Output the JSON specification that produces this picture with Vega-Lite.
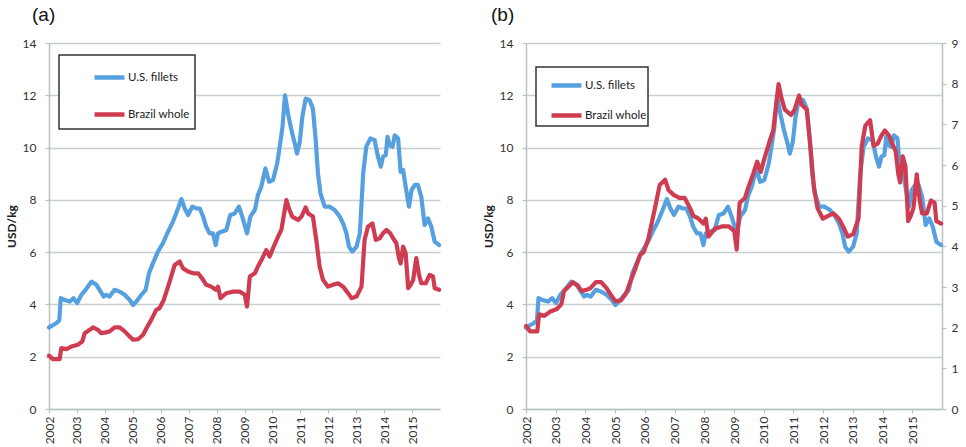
{
  "$schema": "https://vega.github.io/schema/vega-lite/v6.json",
  "padding": {"left": 5, "top": 6, "right": 4, "bottom": 0},
  "background": "white",
  "datasets": {
    "prices": [
      {"t": 2002.00, "s": "U.S. fillets", "v": 3.12},
      {"t": 2002.26, "s": "U.S. fillets", "v": 3.28},
      {"t": 2002.37, "s": "U.S. fillets", "v": 3.40},
      {"t": 2002.42, "s": "U.S. fillets", "v": 4.24},
      {"t": 2002.56, "s": "U.S. fillets", "v": 4.17},
      {"t": 2002.74, "s": "U.S. fillets", "v": 4.11},
      {"t": 2002.88, "s": "U.S. fillets", "v": 4.24},
      {"t": 2003.01, "s": "U.S. fillets", "v": 4.05},
      {"t": 2003.16, "s": "U.S. fillets", "v": 4.37},
      {"t": 2003.31, "s": "U.S. fillets", "v": 4.56},
      {"t": 2003.52, "s": "U.S. fillets", "v": 4.87},
      {"t": 2003.70, "s": "U.S. fillets", "v": 4.75},
      {"t": 2003.81, "s": "U.S. fillets", "v": 4.56},
      {"t": 2003.96, "s": "U.S. fillets", "v": 4.30},
      {"t": 2004.05, "s": "U.S. fillets", "v": 4.37},
      {"t": 2004.17, "s": "U.S. fillets", "v": 4.30},
      {"t": 2004.35, "s": "U.S. fillets", "v": 4.56},
      {"t": 2004.53, "s": "U.S. fillets", "v": 4.49},
      {"t": 2004.71, "s": "U.S. fillets", "v": 4.37},
      {"t": 2004.89, "s": "U.S. fillets", "v": 4.17},
      {"t": 2005.01, "s": "U.S. fillets", "v": 3.98},
      {"t": 2005.13, "s": "U.S. fillets", "v": 4.11},
      {"t": 2005.31, "s": "U.S. fillets", "v": 4.37},
      {"t": 2005.46, "s": "U.S. fillets", "v": 4.56},
      {"t": 2005.58, "s": "U.S. fillets", "v": 5.19},
      {"t": 2005.72, "s": "U.S. fillets", "v": 5.57},
      {"t": 2005.90, "s": "U.S. fillets", "v": 6.02},
      {"t": 2006.08, "s": "U.S. fillets", "v": 6.34},
      {"t": 2006.26, "s": "U.S. fillets", "v": 6.78},
      {"t": 2006.44, "s": "U.S. fillets", "v": 7.17},
      {"t": 2006.62, "s": "U.S. fillets", "v": 7.67},
      {"t": 2006.74, "s": "U.S. fillets", "v": 8.03},
      {"t": 2006.86, "s": "U.S. fillets", "v": 7.67},
      {"t": 2006.98, "s": "U.S. fillets", "v": 7.42},
      {"t": 2007.13, "s": "U.S. fillets", "v": 7.74},
      {"t": 2007.28, "s": "U.S. fillets", "v": 7.67},
      {"t": 2007.40, "s": "U.S. fillets", "v": 7.67},
      {"t": 2007.52, "s": "U.S. fillets", "v": 7.36},
      {"t": 2007.63, "s": "U.S. fillets", "v": 6.97},
      {"t": 2007.75, "s": "U.S. fillets", "v": 6.72},
      {"t": 2007.87, "s": "U.S. fillets", "v": 6.72},
      {"t": 2007.97, "s": "U.S. fillets", "v": 6.27},
      {"t": 2008.05, "s": "U.S. fillets", "v": 6.72},
      {"t": 2008.17, "s": "U.S. fillets", "v": 6.78},
      {"t": 2008.35, "s": "U.S. fillets", "v": 6.85},
      {"t": 2008.49, "s": "U.S. fillets", "v": 7.42},
      {"t": 2008.65, "s": "U.S. fillets", "v": 7.48},
      {"t": 2008.80, "s": "U.S. fillets", "v": 7.74},
      {"t": 2008.92, "s": "U.S. fillets", "v": 7.36},
      {"t": 2009.09, "s": "U.S. fillets", "v": 6.72},
      {"t": 2009.21, "s": "U.S. fillets", "v": 7.36},
      {"t": 2009.37, "s": "U.S. fillets", "v": 7.61},
      {"t": 2009.48, "s": "U.S. fillets", "v": 8.18},
      {"t": 2009.60, "s": "U.S. fillets", "v": 8.50},
      {"t": 2009.75, "s": "U.S. fillets", "v": 9.20},
      {"t": 2009.88, "s": "U.S. fillets", "v": 8.69},
      {"t": 2010.02, "s": "U.S. fillets", "v": 8.76},
      {"t": 2010.17, "s": "U.S. fillets", "v": 9.39},
      {"t": 2010.26, "s": "U.S. fillets", "v": 10.03},
      {"t": 2010.36, "s": "U.S. fillets", "v": 10.79},
      {"t": 2010.45, "s": "U.S. fillets", "v": 12.00},
      {"t": 2010.56, "s": "U.S. fillets", "v": 11.30},
      {"t": 2010.68, "s": "U.S. fillets", "v": 10.67},
      {"t": 2010.80, "s": "U.S. fillets", "v": 10.16},
      {"t": 2010.88, "s": "U.S. fillets", "v": 9.77},
      {"t": 2010.98, "s": "U.S. fillets", "v": 10.22},
      {"t": 2011.07, "s": "U.S. fillets", "v": 11.17},
      {"t": 2011.19, "s": "U.S. fillets", "v": 11.87},
      {"t": 2011.33, "s": "U.S. fillets", "v": 11.81},
      {"t": 2011.45, "s": "U.S. fillets", "v": 11.49},
      {"t": 2011.55, "s": "U.S. fillets", "v": 10.28},
      {"t": 2011.63, "s": "U.S. fillets", "v": 9.01},
      {"t": 2011.72, "s": "U.S. fillets", "v": 8.25},
      {"t": 2011.87, "s": "U.S. fillets", "v": 7.74},
      {"t": 2012.05, "s": "U.S. fillets", "v": 7.74},
      {"t": 2012.23, "s": "U.S. fillets", "v": 7.61},
      {"t": 2012.41, "s": "U.S. fillets", "v": 7.36},
      {"t": 2012.53, "s": "U.S. fillets", "v": 7.10},
      {"t": 2012.65, "s": "U.S. fillets", "v": 6.72},
      {"t": 2012.74, "s": "U.S. fillets", "v": 6.21},
      {"t": 2012.86, "s": "U.S. fillets", "v": 6.02},
      {"t": 2013.01, "s": "U.S. fillets", "v": 6.21},
      {"t": 2013.13, "s": "U.S. fillets", "v": 6.72},
      {"t": 2013.25, "s": "U.S. fillets", "v": 9.01},
      {"t": 2013.36, "s": "U.S. fillets", "v": 10.03},
      {"t": 2013.51, "s": "U.S. fillets", "v": 10.35},
      {"t": 2013.66, "s": "U.S. fillets", "v": 10.28},
      {"t": 2013.78, "s": "U.S. fillets", "v": 9.65},
      {"t": 2013.88, "s": "U.S. fillets", "v": 9.27},
      {"t": 2013.96, "s": "U.S. fillets", "v": 9.65},
      {"t": 2014.06, "s": "U.S. fillets", "v": 9.71},
      {"t": 2014.12, "s": "U.S. fillets", "v": 10.41},
      {"t": 2014.20, "s": "U.S. fillets", "v": 10.09},
      {"t": 2014.30, "s": "U.S. fillets", "v": 10.03},
      {"t": 2014.38, "s": "U.S. fillets", "v": 10.47},
      {"t": 2014.50, "s": "U.S. fillets", "v": 10.35},
      {"t": 2014.59, "s": "U.S. fillets", "v": 9.07},
      {"t": 2014.68, "s": "U.S. fillets", "v": 9.14},
      {"t": 2014.77, "s": "U.S. fillets", "v": 8.50},
      {"t": 2014.89, "s": "U.S. fillets", "v": 7.74},
      {"t": 2014.98, "s": "U.S. fillets", "v": 8.37},
      {"t": 2015.10, "s": "U.S. fillets", "v": 8.57},
      {"t": 2015.21, "s": "U.S. fillets", "v": 8.57},
      {"t": 2015.33, "s": "U.S. fillets", "v": 8.12},
      {"t": 2015.45, "s": "U.S. fillets", "v": 7.04},
      {"t": 2015.57, "s": "U.S. fillets", "v": 7.29},
      {"t": 2015.69, "s": "U.S. fillets", "v": 6.97},
      {"t": 2015.81, "s": "U.S. fillets", "v": 6.40},
      {"t": 2015.97, "s": "U.S. fillets", "v": 6.27},
      {"t": 2002.00, "s": "Brazil whole", "v": 2.04},
      {"t": 2002.14, "s": "Brazil whole", "v": 1.91},
      {"t": 2002.38, "s": "Brazil whole", "v": 1.91},
      {"t": 2002.44, "s": "Brazil whole", "v": 2.33},
      {"t": 2002.62, "s": "Brazil whole", "v": 2.29},
      {"t": 2002.80, "s": "Brazil whole", "v": 2.39},
      {"t": 2003.04, "s": "Brazil whole", "v": 2.46},
      {"t": 2003.19, "s": "Brazil whole", "v": 2.58},
      {"t": 2003.28, "s": "Brazil whole", "v": 2.90},
      {"t": 2003.46, "s": "Brazil whole", "v": 3.03},
      {"t": 2003.58, "s": "Brazil whole", "v": 3.12},
      {"t": 2003.75, "s": "Brazil whole", "v": 3.03},
      {"t": 2003.87, "s": "Brazil whole", "v": 2.90},
      {"t": 2004.03, "s": "Brazil whole", "v": 2.93},
      {"t": 2004.17, "s": "Brazil whole", "v": 2.97},
      {"t": 2004.35, "s": "Brazil whole", "v": 3.12},
      {"t": 2004.53, "s": "Brazil whole", "v": 3.12},
      {"t": 2004.71, "s": "Brazil whole", "v": 2.97},
      {"t": 2004.89, "s": "Brazil whole", "v": 2.77},
      {"t": 2005.01, "s": "Brazil whole", "v": 2.65},
      {"t": 2005.19, "s": "Brazil whole", "v": 2.67},
      {"t": 2005.37, "s": "Brazil whole", "v": 2.84},
      {"t": 2005.49, "s": "Brazil whole", "v": 3.09},
      {"t": 2005.66, "s": "Brazil whole", "v": 3.41},
      {"t": 2005.84, "s": "Brazil whole", "v": 3.79},
      {"t": 2005.96, "s": "Brazil whole", "v": 3.86},
      {"t": 2006.11, "s": "Brazil whole", "v": 4.17},
      {"t": 2006.32, "s": "Brazil whole", "v": 4.87},
      {"t": 2006.50, "s": "Brazil whole", "v": 5.51},
      {"t": 2006.68, "s": "Brazil whole", "v": 5.64},
      {"t": 2006.80, "s": "Brazil whole", "v": 5.38},
      {"t": 2006.98, "s": "Brazil whole", "v": 5.26},
      {"t": 2007.16, "s": "Brazil whole", "v": 5.19},
      {"t": 2007.34, "s": "Brazil whole", "v": 5.19},
      {"t": 2007.52, "s": "Brazil whole", "v": 4.94},
      {"t": 2007.63, "s": "Brazil whole", "v": 4.75},
      {"t": 2007.81, "s": "Brazil whole", "v": 4.68},
      {"t": 2007.97, "s": "Brazil whole", "v": 4.56},
      {"t": 2008.05, "s": "Brazil whole", "v": 4.68},
      {"t": 2008.14, "s": "Brazil whole", "v": 4.24},
      {"t": 2008.35, "s": "Brazil whole", "v": 4.43},
      {"t": 2008.59, "s": "Brazil whole", "v": 4.49},
      {"t": 2008.83, "s": "Brazil whole", "v": 4.49},
      {"t": 2009.01, "s": "Brazil whole", "v": 4.37},
      {"t": 2009.09, "s": "Brazil whole", "v": 3.92},
      {"t": 2009.19, "s": "Brazil whole", "v": 5.07},
      {"t": 2009.37, "s": "Brazil whole", "v": 5.19},
      {"t": 2009.48, "s": "Brazil whole", "v": 5.45},
      {"t": 2009.64, "s": "Brazil whole", "v": 5.77},
      {"t": 2009.78, "s": "Brazil whole", "v": 6.08},
      {"t": 2009.90, "s": "Brazil whole", "v": 5.83},
      {"t": 2010.02, "s": "Brazil whole", "v": 6.15},
      {"t": 2010.20, "s": "Brazil whole", "v": 6.59},
      {"t": 2010.32, "s": "Brazil whole", "v": 6.85},
      {"t": 2010.40, "s": "Brazil whole", "v": 7.36},
      {"t": 2010.50, "s": "Brazil whole", "v": 7.99},
      {"t": 2010.59, "s": "Brazil whole", "v": 7.67},
      {"t": 2010.71, "s": "Brazil whole", "v": 7.36},
      {"t": 2010.92, "s": "Brazil whole", "v": 7.23},
      {"t": 2011.04, "s": "Brazil whole", "v": 7.36},
      {"t": 2011.19, "s": "Brazil whole", "v": 7.71},
      {"t": 2011.28, "s": "Brazil whole", "v": 7.48},
      {"t": 2011.45, "s": "Brazil whole", "v": 7.36},
      {"t": 2011.57, "s": "Brazil whole", "v": 6.47},
      {"t": 2011.69, "s": "Brazil whole", "v": 5.45},
      {"t": 2011.81, "s": "Brazil whole", "v": 4.94},
      {"t": 2011.99, "s": "Brazil whole", "v": 4.68},
      {"t": 2012.17, "s": "Brazil whole", "v": 4.75},
      {"t": 2012.35, "s": "Brazil whole", "v": 4.81},
      {"t": 2012.53, "s": "Brazil whole", "v": 4.68},
      {"t": 2012.71, "s": "Brazil whole", "v": 4.43},
      {"t": 2012.83, "s": "Brazil whole", "v": 4.24},
      {"t": 2013.01, "s": "Brazil whole", "v": 4.30},
      {"t": 2013.19, "s": "Brazil whole", "v": 4.68},
      {"t": 2013.30, "s": "Brazil whole", "v": 6.47},
      {"t": 2013.42, "s": "Brazil whole", "v": 6.97},
      {"t": 2013.58, "s": "Brazil whole", "v": 7.10},
      {"t": 2013.70, "s": "Brazil whole", "v": 6.47},
      {"t": 2013.84, "s": "Brazil whole", "v": 6.53},
      {"t": 2013.96, "s": "Brazil whole", "v": 6.72},
      {"t": 2014.08, "s": "Brazil whole", "v": 6.85},
      {"t": 2014.22, "s": "Brazil whole", "v": 6.72},
      {"t": 2014.32, "s": "Brazil whole", "v": 6.53},
      {"t": 2014.44, "s": "Brazil whole", "v": 6.34},
      {"t": 2014.53, "s": "Brazil whole", "v": 5.77},
      {"t": 2014.59, "s": "Brazil whole", "v": 5.57},
      {"t": 2014.68, "s": "Brazil whole", "v": 6.21},
      {"t": 2014.77, "s": "Brazil whole", "v": 5.96},
      {"t": 2014.86, "s": "Brazil whole", "v": 4.62},
      {"t": 2014.95, "s": "Brazil whole", "v": 4.75},
      {"t": 2015.04, "s": "Brazil whole", "v": 4.94},
      {"t": 2015.15, "s": "Brazil whole", "v": 5.77},
      {"t": 2015.25, "s": "Brazil whole", "v": 5.13},
      {"t": 2015.33, "s": "Brazil whole", "v": 4.81},
      {"t": 2015.49, "s": "Brazil whole", "v": 4.81},
      {"t": 2015.63, "s": "Brazil whole", "v": 5.13},
      {"t": 2015.75, "s": "Brazil whole", "v": 5.07},
      {"t": 2015.81, "s": "Brazil whole", "v": 4.62},
      {"t": 2015.97, "s": "Brazil whole", "v": 4.56}
    ]
  },
  "hconcat": [
    {
      "width": 391,
      "height": 366,
      "title": {"text": "(a)", "anchor": "start", "frame": "group", "dx": -17, "offset": 12},
      "data": {"name": "prices"},
      "mark": {"type": "line", "strokeWidth": 4.2, "strokeJoin": "round", "strokeCap": "round"},
      "encoding": {
        "x": {"field": "t", "type": "quantitative", "scale": {"domain": [2002, 2016], "nice": false, "zero": false}, "axis": {"values": [2002, 2003, 2004, 2005, 2006, 2007, 2008, 2009, 2010, 2011, 2012, 2013, 2014, 2015], "title": null, "labelOverlap": false}},
        "y": {"field": "v", "type": "quantitative", "scale": {"domain": [0, 14], "nice": false}, "axis": {"values": [0, 2, 4, 6, 8, 10, 12, 14], "title": "USD/kg", "grid": true}},
        "color": {"field": "s", "type": "nominal", "scale": {"domain": ["U.S. fillets", "Brazil whole"], "range": ["#56a0e0", "#cf3c52"]},
          "legend": {"orient": "none", "legendX": 10, "legendY": 12, "title": null, "padding": 5, "rowPadding": 10, "symbolOffset": 28}
        }
      }
    },
    {
      "width": 416,
      "height": 366,
      "title": {"text": "(b)", "anchor": "start", "frame": "group", "dx": -35, "offset": 12},
      "data": {"name": "prices"},
      "layer": [
        {
          "transform": [{"filter": "datum.s === 'U.S. fillets'"}],
          "mark": {"type": "line", "strokeWidth": 4.2, "strokeJoin": "round", "strokeCap": "round"},
          "encoding": {
            "x": {"field": "t", "type": "quantitative", "scale": {"domain": [2002, 2016], "nice": false, "zero": false}, "axis": {"values": [2002, 2003, 2004, 2005, 2006, 2007, 2008, 2009, 2010, 2011, 2012, 2013, 2014, 2015], "title": null, "labelOverlap": false}},
            "y": {"field": "v", "type": "quantitative", "scale": {"domain": [0, 14], "nice": false}, "axis": {"values": [0, 2, 4, 6, 8, 10, 12, 14], "title": "USD/kg", "grid": true, "orient": "left"}},
            "color": {"field": "s", "type": "nominal", "scale": {"domain": ["U.S. fillets", "Brazil whole"], "range": ["#56a0e0", "#cf3c52"]},
              "legend": {"orient": "none", "legendX": 10, "legendY": 24, "title": null, "padding": 1, "rowPadding": 3, "symbolOffset": 12}
            }
          }
        },
        {
          "transform": [{"filter": "datum.s === 'Brazil whole'"}],
          "mark": {"type": "line", "strokeWidth": 4.2, "strokeJoin": "round", "strokeCap": "round"},
          "encoding": {
            "x": {"field": "t", "type": "quantitative", "axis": {"values": [2002, 2003, 2004, 2005, 2006, 2007, 2008, 2009, 2010, 2011, 2012, 2013, 2014, 2015], "title": null, "labelOverlap": false}},
            "y": {"field": "v", "type": "quantitative", "scale": {"domain": [0, 9], "nice": false}, "axis": {"values": [0, 1, 2, 3, 4, 5, 6, 7, 8, 9], "title": null, "grid": false, "orient": "right", "labelPadding": 5}},
            "color": {"field": "s", "type": "nominal"}
          }
        }
      ],
      "resolve": {"scale": {"y": "independent"}}
    }
  ],
  "spacing": 40,
  "resolve": {"legend": {"color": "independent"}, "scale": {"color": "shared"}},
  "config": {
    "view": {"stroke": null},
    "font": "Liberation Sans",
    "title": {"fontSize": 19, "fontWeight": "normal", "font": "Liberation Sans", "color": "#111"},
    "axis": {
      "labelFont": "Lato",
      "labelFontSize": 12,
      "labelColor": "#333",
      "domainColor": "#b8c2c2",
      "domainWidth": 1.5,
      "tickColor": "#b8c2c2",
      "tickSize": 4,
      "tickWidth": 1.2,
      "gridColor": "#c8d0d0",
      "gridWidth": 1.3,
      "labelPadding": 9,
      "titleFont": "Lato",
      "titleFontSize": 12,
      "titleFontWeight": "bold",
      "titleColor": "#222",
      "titlePadding": 4
    },
    "axisX": {"labelAngle": 270, "format": "d", "grid": false, "labelFontSize": 12, "labelPadding": 3, "tickSize": 4, "labelOverlap": false},
    "legend": {
      "symbolType": "stroke",
      "symbolSize": 900,
      "symbolStrokeWidth": 4.5,
      "labelFont": "Lato",
      "labelFontSize": 11.5,
      "labelColor": "#222",
      "labelOffset": 1,
      "fillColor": "white",
      "strokeColor": "#333",
      "strokeWidth": 1.5
    }
  }
}
